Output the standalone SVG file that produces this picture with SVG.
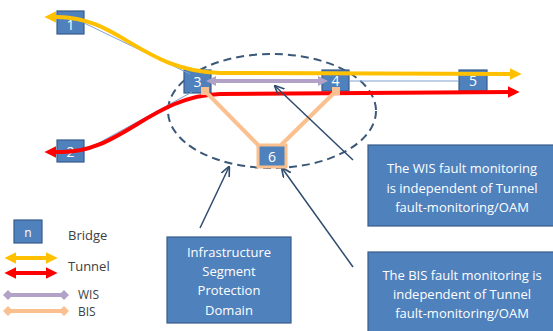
<svg xmlns="http://www.w3.org/2000/svg" width="553" height="331" viewBox="0 0 553 331">
<style>
.node rect{fill:#4F81BD;stroke:#385D8A;stroke-width:1.2}
.nl{fill:#fff;font-family:"Open Sans","Liberation Sans",sans-serif;font-size:14px;text-anchor:middle}
.box rect{fill:#4F81BD;stroke:#385D8A;stroke-width:1.2}
.bt{fill:#fff;font-family:"Open Sans","Liberation Sans",sans-serif;font-size:13px;text-anchor:middle}
.lg{fill:#404040;font-family:"Open Sans","Liberation Sans",sans-serif;font-size:13px}
.yel{fill:none;stroke:#FFC000;stroke-width:4}
.red{fill:none;stroke:#FF0000;stroke-width:4}
.wis{fill:none;stroke:#B3A2C7;stroke-width:4}
.bis{fill:none;stroke:#FAC090;stroke-width:4}
.thin{fill:none;stroke:#7EA1D0;stroke-width:1}
.ptr{fill:none;stroke:#2F4B6E;stroke-width:1.5}
</style>
<defs>
<marker id="ay" viewBox="0 0 10 10" refX="2" refY="5" markerUnits="userSpaceOnUse" markerWidth="12" markerHeight="14" orient="auto-start-reverse"><path d="M0,0 L10,5 L0,10 z" fill="#FFC000"/></marker>
<marker id="ar" viewBox="0 0 10 10" refX="2" refY="5" markerUnits="userSpaceOnUse" markerWidth="12" markerHeight="14" orient="auto-start-reverse"><path d="M0,0 L10,5 L0,10 z" fill="#FF0000"/></marker>
<marker id="ap" viewBox="0 0 10 10" refX="2" refY="5" markerUnits="userSpaceOnUse" markerWidth="10" markerHeight="12" orient="auto-start-reverse"><path d="M0,0 L10,5 L0,10 z" fill="#B3A2C7"/></marker>
<marker id="dp" viewBox="0 0 10 10" refX="5" refY="5" markerUnits="userSpaceOnUse" markerWidth="10" markerHeight="10" orient="auto"><path d="M0,5 L5,0 L10,5 L5,10 z" fill="#B3A2C7"/></marker>
<marker id="do" viewBox="0 0 10 10" refX="5" refY="5" markerUnits="userSpaceOnUse" markerWidth="10" markerHeight="10" orient="auto"><path d="M0,5 L5,0 L10,5 L5,10 z" fill="#FAC090"/></marker>
<marker id="an" viewBox="0 0 10 10" refX="9" refY="5" markerUnits="userSpaceOnUse" markerWidth="10" markerHeight="10" orient="auto"><path d="M0,0.5 L10,5 L0,9.5" fill="none" stroke="#2F4B6E" stroke-width="1.6"/></marker>
</defs>

<ellipse cx="272" cy="111" rx="104" ry="57" fill="none" stroke="#3B5878" stroke-width="2" stroke-dasharray="8,5"/>

<g id="node1" class="node"><rect x="57" y="11" width="27" height="23"/><text class="nl" x="70.5" y="30">1</text></g>
<g id="node2" class="node"><rect x="57" y="140" width="27" height="22"/><text class="nl" x="70.5" y="157">2</text></g>
<g id="node3" class="node"><rect x="184" y="70" width="27" height="23"/><text class="nl" x="197.5" y="87">3</text></g>
<g id="node4" class="node"><rect x="322" y="70" width="27" height="21"/><text class="nl" x="335.5" y="86">4</text></g>
<g id="node5" class="node"><rect x="459" y="70" width="28" height="21"/><text class="nl" x="473" y="86">5</text></g>

<g id="connectors">
<line class="thin" x1="84" y1="23" x2="190" y2="74"/>
<line class="thin" x1="84" y1="151" x2="192" y2="92"/>
<line class="thin" x1="349" y1="81" x2="459" y2="81"/>
<path class="yel" d="M57,17 C120,17 140,70 220,73 L512,74" marker-end="url(#ay)"/>
<path class="yel" d="M57,17 L54,17" marker-end="url(#ay)"/>
<path class="red" d="M57,152 C120,155 150,96 220,94 L510,92" marker-end="url(#ar)"/>
<path class="red" d="M57,152 L54,152" marker-end="url(#ar)"/>
<line class="wis" x1="214" y1="81" x2="320" y2="81" marker-start="url(#ap)" marker-end="url(#ap)"/>
<line class="bis" x1="205" y1="91" x2="263" y2="150"/>
<line class="bis" x1="336" y1="91" x2="276" y2="150"/>
<rect x="201" y="87" width="8" height="8" fill="#FAC090"/>
<rect x="332" y="87" width="8" height="8" fill="#FAC090"/>
<line class="ptr" x1="353" y1="160" x2="275" y2="86" marker-end="url(#an)"/>
<line class="ptr" x1="353" y1="267" x2="282" y2="168" marker-end="url(#an)"/>
<line class="ptr" x1="200" y1="228" x2="229" y2="167" marker-end="url(#an)"/>
</g>

<g id="node6" class="node"><rect x="258" y="145" width="28" height="22" style="stroke:#FAC090;stroke-width:3"/><text class="nl" x="272" y="162">6</text></g>

<g id="infra" class="box"><rect x="167" y="237" width="124" height="86"/>
<text class="bt" x="229" y="257">Infrastructure</text>
<text class="bt" x="229" y="276">Segment</text>
<text class="bt" x="229" y="295">Protection</text>
<text class="bt" x="229" y="315">Domain</text></g>

<g id="wisnote" class="box"><rect x="368" y="145" width="190" height="81"/>
<text class="bt" x="462" y="173">The WIS fault monitoring</text>
<text class="bt" x="462" y="193">is independent of Tunnel</text>
<text class="bt" x="462" y="212">fault-monitoring/OAM</text></g>

<g id="bisnote" class="box"><rect x="368" y="252" width="190" height="85"/>
<text class="bt" x="462" y="280">The BIS fault monitoring is</text>
<text class="bt" x="462" y="299">independent of Tunnel</text>
<text class="bt" x="462" y="318">fault-monitoring/OAM</text></g>

<g id="legend">
<g class="node"><rect x="14" y="220" width="28" height="23"/><text class="nl" x="28" y="237" style="font-size:12px">n</text></g>
<text class="lg" x="68" y="240">Bridge</text>
<line class="yel" x1="14" y1="258" x2="48" y2="258" marker-start="url(#ay)" marker-end="url(#ay)"/>
<line class="red" x1="14" y1="273" x2="48" y2="273" marker-start="url(#ar)" marker-end="url(#ar)"/>
<text class="lg" x="68" y="271">Tunnel</text>
<line class="wis" x1="8" y1="295" x2="64" y2="295" marker-start="url(#dp)" marker-end="url(#dp)"/>
<text class="lg" x="78" y="299" style="font-size:12px">WIS</text>
<line class="bis" x1="8" y1="311" x2="64" y2="311" marker-start="url(#do)" marker-end="url(#do)"/>
<text class="lg" x="78" y="316" style="font-size:12px">BIS</text>
</g>
</svg>
